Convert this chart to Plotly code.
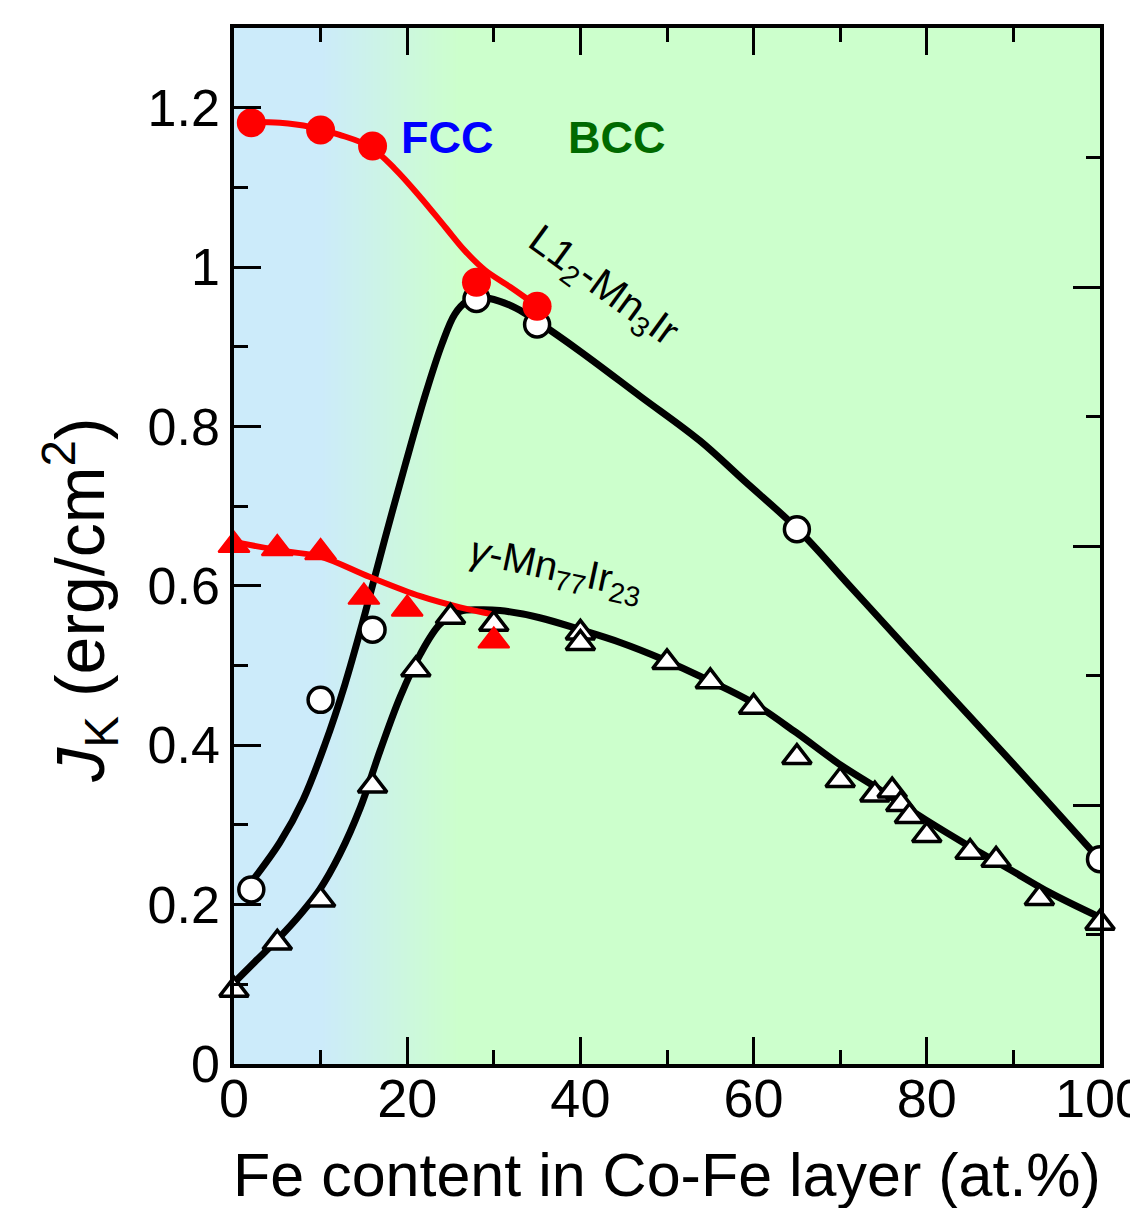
import plotly.graph_objects as go

# ---------------- data ----------------
# L1_2-Mn3Ir, Jk (red filled circles) and fitted curve
l12_red_x = [2, 10, 16, 28, 35]
l12_red_y = [1.181, 1.172, 1.152, 0.981, 0.951]
l12_red_fit_x = [1.7, 5.3, 8.8, 12.2, 15.7, 18.6, 21.5, 24.4, 26.7, 29.0, 31.9, 34.9]
l12_red_fit_y = [1.182, 1.181, 1.176, 1.166, 1.151, 1.123, 1.088, 1.050, 1.020, 0.996, 0.975, 0.952]

# L1_2-Mn3Ir, open circles and fitted curve
l12_open_x = [2, 10, 16, 28, 35, 65, 100]
l12_open_y = [0.219, 0.457, 0.545, 0.960, 0.928, 0.671, 0.257]
l12_open_fit_x = [2.2, 5.3, 8.0, 10.5, 12.8, 15.1, 17.4, 19.8, 22.1, 24.0, 25.5, 26.9, 28.4,
                  30.7, 33.0, 35.0, 40.0, 46.9, 53.8, 59.0, 65.1, 71.1, 77.4, 89.2, 100]
l12_open_fit_y = [0.231, 0.278, 0.332, 0.401, 0.476, 0.564, 0.658, 0.753, 0.840, 0.903, 0.941, 0.957, 0.962,
                  0.957, 0.946, 0.932, 0.894, 0.838, 0.782, 0.731, 0.671, 0.600, 0.525, 0.386, 0.256]

# gamma-Mn77Ir23, red filled triangles and fitted curve
gam_red_x = [0, 5, 10, 15, 20, 30]
gam_red_y = [0.651, 0.647, 0.642, 0.586, 0.571, 0.531]
gam_red_fit_x = [0, 6.1, 9.9, 15.7, 21.5, 26.1, 30]
gam_red_fit_y = [0.655, 0.643, 0.637, 0.611, 0.587, 0.573, 0.564]

# gamma-Mn77Ir23, open triangles and fitted curve
gam_open_x = [0, 5, 10, 16, 21, 25, 30, 40, 40, 50, 55, 60, 65, 70, 74, 76, 77, 78, 80, 85, 88, 93, 100]
gam_open_y = [0.093, 0.152, 0.206, 0.349, 0.495, 0.561, 0.552, 0.541, 0.528, 0.504, 0.480, 0.448,
              0.385, 0.356, 0.338, 0.343, 0.326, 0.311, 0.287, 0.266, 0.256, 0.208, 0.177]
gam_open_fit_x = [0, 2.4, 5.0, 7.6, 9.9, 12.2, 14.6, 16.9, 19.2, 21.5, 23.8, 26.1, 28.4, 30.7, 35.3,
                  40.0, 44.6, 49.5, 54.7, 59.8, 64.9, 69.8, 74.6, 79.8, 84.8, 89.6, 94.2, 100]
gam_open_fit_y = [0.102, 0.128, 0.156, 0.187, 0.219, 0.263, 0.322, 0.394, 0.461, 0.514, 0.552, 0.568, 0.570,
                  0.569, 0.560, 0.545, 0.529, 0.508, 0.482, 0.454, 0.416, 0.377, 0.344, 0.307, 0.274,
                  0.244, 0.215, 0.184]

x_ticks = [0, 20, 40, 60, 80, 100]
x_ticklabels = ["0", "20", "40", "60", "80", "100"]
y_ticks = [0, 0.2, 0.4, 0.6, 0.8, 1.0, 1.2]
y_ticklabels = ["0", "0.2", "0.4", "0.6", "0.8", "1", "1.2"]

# background gradient (FCC -> BCC)
bg_x = list(range(0, 101))
BLUE = "rgb(204,235,250)"
GREEN = "rgb(204,255,204)"

FONT = "Arial, Liberation Sans, sans-serif"
RED = "#FF0000"

fig = go.Figure()

fig.add_trace(go.Heatmap(
    x=bg_x, y=[0, 1.3], z=[bg_x, bg_x], zmin=0, zmax=100,
    colorscale=[[0, BLUE], [0.10, BLUE], [0.26, GREEN], [1, GREEN]],
    showscale=False, zsmooth="best", hoverinfo="skip"))

line_black = dict(color="black", width=7, shape="spline", smoothing=1.0)
fig.add_trace(go.Scatter(x=l12_open_fit_x, y=l12_open_fit_y, mode="lines", line=line_black))
fig.add_trace(go.Scatter(x=gam_open_fit_x, y=gam_open_fit_y, mode="lines", line=line_black))

fig.add_trace(go.Scatter(x=l12_red_fit_x, y=l12_red_fit_y, mode="lines",
                         line=dict(color=RED, width=6, shape="spline", smoothing=1.0)))
fig.add_trace(go.Scatter(x=gam_red_fit_x, y=gam_red_fit_y, mode="lines",
                         line=dict(color=RED, width=6, shape="spline", smoothing=1.0)))

fig.add_trace(go.Scatter(x=gam_open_x, y=gam_open_y, mode="markers", cliponaxis=False,
                         marker=dict(symbol="triangle-up", size=25, color="white",
                                     line=dict(color="black", width=3.5))))
fig.add_trace(go.Scatter(x=l12_open_x, y=l12_open_y, mode="markers", cliponaxis=True,
                         marker=dict(symbol="circle", size=25, color="white",
                                     line=dict(color="black", width=3.5))))

fig.add_trace(go.Scatter(x=gam_red_x, y=gam_red_y, mode="markers", cliponaxis=False,
                         marker=dict(symbol="triangle-up", size=27, color=RED,
                                     line=dict(color=RED, width=2))))
fig.add_trace(go.Scatter(x=l12_red_x, y=l12_red_y, mode="markers", cliponaxis=False,
                         marker=dict(symbol="circle", size=29, color=RED,
                                     line=dict(color=RED, width=0))))

# invisible trace to activate right axis
fig.add_trace(go.Scatter(x=[0], y=[0], yaxis="y2", mode="markers",
                         marker=dict(opacity=0), hoverinfo="skip"))

fig.update_layout(
    width=1130, height=1208,
    margin=dict(l=234, r=30, t=28, b=144, autoexpand=False),
    paper_bgcolor="white", plot_bgcolor=GREEN,
    showlegend=False,
    font=dict(family=FONT, color="black"),
    xaxis=dict(range=[0, 100], tickvals=x_ticks, ticktext=x_ticklabels,
               ticks="inside", ticklen=27, tickwidth=3, tickcolor="black",
               minor=dict(dtick=10, tick0=0, ticks="inside", ticklen=14, tickwidth=3, tickcolor="black"),
               showline=True, linewidth=3.5, linecolor="black", mirror="ticks",
               showgrid=False, zeroline=False, ticklabeloverflow="allow", automargin=False,
               tickfont=dict(size=54, family=FONT), ticklabelstandoff=-16),
    yaxis=dict(range=[0, 1.3], tickvals=y_ticks, ticktext=y_ticklabels,
               ticks="inside", ticklen=27, tickwidth=3, tickcolor="black",
               minor=dict(dtick=0.1, tick0=0, ticks="inside", ticklen=14, tickwidth=3, tickcolor="black"),
               showline=True, linewidth=3.5, linecolor="black", mirror=False,
               showgrid=False, zeroline=False, ticklabeloverflow="allow", automargin=False,
               tickfont=dict(size=52, family=FONT), ticklabelstandoff=0),
    yaxis2=dict(range=[0, 0.8], overlaying="y", side="right", anchor="x",
                tickvals=[0.2, 0.4, 0.6], showticklabels=False, automargin=False,
                ticks="inside", ticklen=27, tickwidth=3, tickcolor="black",
                minor=dict(tickvals=[0.1, 0.3, 0.5, 0.7], ticks="inside", ticklen=14, tickwidth=3,
                           tickcolor="black"),
                showline=True, linewidth=3.5, linecolor="black",
                showgrid=False, zeroline=False),
)

annotations = [
    dict(text="Fe content in Co-Fe layer (at.%)", xref="paper", yref="paper",
         x=0.5, y=-0.107, xanchor="center", yanchor="middle", showarrow=False,
         font=dict(size=61, family=FONT)),
    dict(text="<i>J</i><sub>K</sub> (erg/cm<sup>2</sup>)", xref="paper", yref="paper",
         x=-0.178, y=0.448, xanchor="center", yanchor="middle", textangle=-90, showarrow=False,
         font=dict(size=68, family=FONT)),
    dict(text="<b>FCC</b>", x=24.6, y=1.163, xref="x", yref="y", showarrow=False,
         font=dict(size=45, family=FONT, color="#0000FF")),
    dict(text="<b>BCC</b>", x=44.2, y=1.163, xref="x", yref="y", showarrow=False,
         font=dict(size=45, family=FONT, color="#006A00")),
    dict(text="L1<sub>2</sub>-Mn<sub>3</sub>Ir", x=42.5, y=0.975, xref="x", yref="y",
         showarrow=False, textangle=36, font=dict(size=41, family=FONT)),
    dict(text="<i>γ</i>-Mn<sub>77</sub>Ir<sub>23</sub>", x=37.2, y=0.620, xref="x", yref="y",
         showarrow=False, textangle=12, font=dict(size=40, family=FONT)),
]
fig.update_layout(annotations=annotations)

fig.write_html("out.html")
